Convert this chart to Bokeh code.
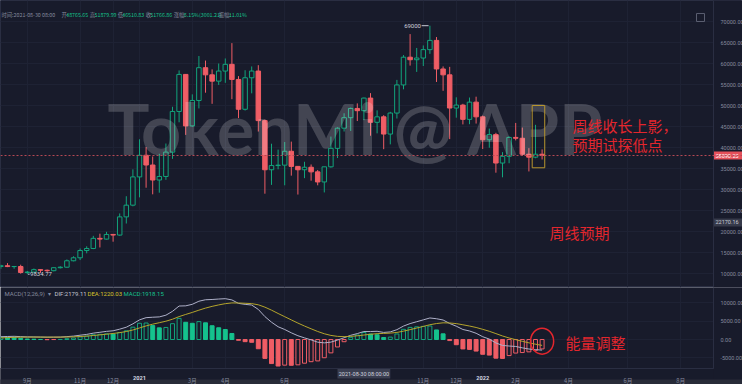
import numpy as np
from bokeh.plotting import figure
from bokeh.layouts import column
from bokeh.models import Range1d, FixedTicker, NumeralTickFormatter, Grid, Span, LinearAxis
from bokeh.core.properties import value
from bokeh.embed import file_html
from bokeh.resources import INLINE

# ---------------- data (weekly candles, week start Monday) ----------------
weeks = ["2020-08-10","2020-08-17","2020-08-24","2020-08-31","2020-09-07","2020-09-14","2020-09-21","2020-09-28",
         "2020-10-05","2020-10-12","2020-10-19","2020-10-26","2020-11-02","2020-11-09","2020-11-16","2020-11-23",
         "2020-11-30","2020-12-07","2020-12-14","2020-12-21","2020-12-28","2021-01-04","2021-01-11","2021-01-18",
         "2021-01-25","2021-02-01","2021-02-08","2021-02-15","2021-02-22","2021-03-01","2021-03-08","2021-03-15",
         "2021-03-22","2021-03-29","2021-04-05","2021-04-12","2021-04-19","2021-04-26","2021-05-03","2021-05-10",
         "2021-05-17","2021-05-24","2021-05-31","2021-06-07","2021-06-14","2021-06-21","2021-06-28","2021-07-05",
         "2021-07-12","2021-07-19","2021-07-26","2021-08-02","2021-08-09","2021-08-16","2021-08-23","2021-08-30",
         "2021-09-06","2021-09-13","2021-09-20","2021-09-27","2021-10-04","2021-10-11","2021-10-18","2021-10-25",
         "2021-11-01","2021-11-08","2021-11-15","2021-11-22","2021-11-29","2021-12-06","2021-12-13","2021-12-20",
         "2021-12-27","2022-01-03","2022-01-10","2022-01-17","2022-01-24","2022-01-31","2022-02-07","2022-02-14",
         "2022-02-21","2022-02-28","2022-03-07"]
opens = [11680,11850,11650,11660,10250,10330,10920,10770,10670,11380,11500,13030,13740,15470,15960,18370,
         18190,19300,19150,23480,26270,33000,38150,35830,32260,33100,38900,48580,57400,45140,51200,59000,
         57300,55800,58200,59800,56200,49100,56600,58200,46400,34700,35700,35800,39100,35500,34700,35300,
         34200,31800,35400,39800,44600,47100,49300,48765.65,51766,46000,47300,43200,48200,54900,61500,60900,
         61300,63300,65500,58700,57300,49400,50100,46700,50800,47300,41850,43100,36300,37900,42400,42200,
         38400,37700,38400]
highs = [12090,12470,11800,12090,10600,11180,10990,10950,11490,11720,13350,14100,15960,16480,18960,19480,
         19920,19420,24300,28400,34800,41950,40100,37850,38500,40950,49700,58350,57500,52650,61780,60700,
         58600,60000,61200,64850,57000,58400,59300,59600,46650,40900,39500,41300,41400,35500,36600,35960,
         34650,35400,42600,44800,48150,49500,50500,51879.99,52950,48850,47700,48500,56100,62000,67000,63700,
         64300,69000,66300,59300,59200,51950,50400,51900,52100,47600,44500,43500,38900,42650,45850,44750,
         39850,45400,39550]
lows = [11120,11520,11130,9960,9834.77,10270,10140,10370,10520,11200,11400,12900,13200,14800,15800,16200,
        18100,17570,19000,21900,26000,28130,30420,28850,29240,32300,37300,46000,43000,44950,49300,53050,
        50400,54900,55400,51500,47000,48800,52900,43800,29000,31100,34800,31000,33300,28800,32700,32100,
        31000,29300,35200,37500,43800,43950,46300,46510.83,42800,43370,39600,40750,46900,53850,59500,58000,
        59400,62300,55600,53500,42000,47100,45500,45550,45700,39650,39950,34000,32900,36250,41700,38000,
        34300,37450,37150]
closes = [11850,11650,11660,10250,10330,10920,10770,10670,11380,11500,13030,13740,15470,15960,18370,18190,
          19300,19150,23480,26270,33000,38150,35830,32260,33100,38900,48580,57400,45140,51200,59000,57300,
          55800,58200,59800,56200,49100,56600,58200,46400,34700,35700,35800,39100,35500,34700,35300,34200,
          31800,35400,39800,44600,47100,49300,48765.65,51766.86,46000,47300,43200,48200,54900,61500,60900,61300,
          63300,65500,58700,57300,49400,50100,46700,50800,47300,41850,43100,36300,37900,42400,42200,38400,
          37700,38400,38090.23]

# MACD(12,26,9) values
dif = [758,826,871,784,714,697,664,623,640,656,783,930,1173,1388,1734,1971,2222,2382,2825,3363,4283,5366,
       5968,6087,6177,6641,7700,9146,9197,9615,10456,10859,10932,11056,11155,10818,9864,9603,9417,8222,6259,
       4729,3485,2733,1826,1031,444,-108,-732,-924,-714,-158,479,1148,1616,2179,2180,2240,1934,2071,2689,
       3670,4348,4862,5369,5880,5671,5331,4374,3630,2734,2329,1705,762,115,-936,-1622,-1781,-1902,-2278,
       -2602,-2771,-2896]
dea = [442,519,590,629,646,656,658,651,648,650,676,727,816,931,1091,1267,1458,1643,1879,2176,2597,3151,
       3714,4189,4587,4997,5538,6260,6847,7401,8012,8581,9052,9452,9793,9998,9971,9898,9801,9485,8840,8018,
       7111,6236,5354,4489,3680,2923,2192,1569,1112,858,782,855,1008,1220,1434,1595,1663,1744,1933,2280,
       2694,3128,3576,4037,4363,4557,4520,4342,4021,3682,3287,2782,2248,1611,965,416,-48,-494,-915,-1286,
       -1608]
macd_hist = [632,614,562,310,136,82,12,-56,-16,12,214,406,714,914,1286,1408,1528,1478,1892,2374,3372,4430,
             4508,3796,3180,3288,4324,5772,4700,4428,4888,4556,3760,3208,2724,1640,-214,-590,-768,-2526,-5162,
             -6578,-7252,-7006,-7056,-6916,-6472,-6062,-5848,-4986,-3652,-2032,-606,586,1216,1918,1492,1290,
             542,654,1512,2780,3308,3468,3586,3686,2616,1548,-292,-1424,-2574,-2706,-3164,-4040,-4266,-5094,
             -5174,-4394,-3708,-3568,-3374,-2970,-2576]

tick_idx = [4, 12, 17, 29, 34, 43, 64, 69, 78, 86, 95, 103]
tick_txt = ["9月", "11月", "12月", "3月", "4月", "6月", "11月", "12月", "2月", "4月", "6月", "8月"]
year_idx = [21, 73]
year_txt = ["2021", "2022"]
price_ticks = [10000, 15000, 20000, 25000, 30000, 35000, 40000, 45000, 50000, 55000, 60000, 65000, 70000]
macd_ticks = [-5000, 0, 5000, 10000]
last_price = 38090.23
cross_price = 22170.16
cross_week = 55

# ---------------- styles ----------------
BG = "#181b2b"
GRIDC = "#1e2234"
AXC = "#2a2e42"
TXT = "#858a9e"
GREEN = "#12a47c"
GREEN_S = "#15c28d"
RED = "#ef5d65"
ANN = "#e3262d"
CJK = "Noto Sans CJK SC"
NUM = "Roboto"

x = np.arange(len(weeks))
o = np.array(opens, float); h = np.array(highs, float); l = np.array(lows, float); c = np.array(closes, float)
up = c >= o
dn = ~up

def px(v):  # screen px -> week index (annotation placement only)
    return (v - 0.4) / 6.6

XL, XA, XR = px(0) - 1, px(713), px(742) + 1
all_ticks = sorted(tick_idx + year_idx)

def style_axis(ax, font, size="5.5px", color=TXT):
    ax.major_label_text_font_size = size
    ax.major_label_text_color = color
    ax.major_label_text_font = font
    ax.axis_line_color = AXC
    ax.major_tick_line_color = None
    ax.minor_tick_line_color = None

# ---------------- main (price) panel ----------------
P_LO, P_HI = 6667, 75000
p = figure(width=742, height=287, x_range=Range1d(px(0), px(742)), y_range=Range1d(P_LO, P_HI),
           x_axis_location=None, y_axis_location=None, output_backend="svg", toolbar_location=None,
           min_border=0, background_fill_color=BG, border_fill_color=BG, outline_line_color=AXC)
for g in list(p.xgrid) + list(p.ygrid):
    g.visible = False
p.add_layout(Grid(dimension=1, ticker=FixedTicker(ticks=price_ticks), grid_line_color=GRIDC))
p.add_layout(Grid(dimension=0, ticker=FixedTicker(ticks=all_ticks), grid_line_color=GRIDC))

# candles
p.segment(x[up], h[up], x[up], l[up], color=GREEN, line_width=1)
p.segment(x[dn], h[dn], x[dn], l[dn], color=RED, line_width=1)
p.vbar(x=x[up], width=0.68, top=c[up], bottom=o[up], fill_color=BG, line_color=GREEN, line_width=1)
p.vbar(x=x[dn], width=0.68, top=o[dn], bottom=c[dn], fill_color=RED, line_color=RED, line_width=1)

p.add_layout(Span(location=last_price, dimension="width", line_color="#b84a55", line_dash="2 2", line_width=1))

# watermark
p.text(x=[px(107)], y=[44643], text=["TokenMi @ APP"], text_font=value("Lato"), text_font_style="bold",
       text_font_size="70px", text_color="white", text_alpha=0.19, text_baseline="middle")

# high / low markers
i_hi = int(np.argmax(h)); i_lo = int(np.argmin(l))
p.segment([i_hi - 1.25], [h[i_hi]], [i_hi - 0.2], [h[i_hi]], color="#c8cad6", line_width=1)
p.text(x=[i_hi - 1.35], y=[h[i_hi]], text=["%d" % h[i_hi]], text_font=value(NUM), text_font_size="6px",
       text_color="#d0d2dc", text_align="right", text_baseline="middle")
p.segment([i_lo + 0.1], [l[i_lo]], [i_lo + 0.35], [l[i_lo]], color="#c8cad6", line_width=1)
p.text(x=[i_lo + 0.42], y=[l[i_lo]], text=["%.2f" % l[i_lo]], text_font=value(NUM), text_font_size="6px",
       text_color="#d0d2dc", text_align="left", text_baseline="middle")

# header line
hdr = [(1, "时间:2021-08-30 08:00", TXT), (61, "开:", TXT), (65.7, "48765.65", GREEN_S),
       (89.3, "高:", TXT), (94, "51879.99", GREEN_S), (117.3, "低:", TXT), (121.7, "46510.83", GREEN_S),
       (145.3, "收:", TXT), (149.7, "51766.86", GREEN_S), (173.3, "涨幅:", TXT), (183.3, "6.15%(3001.21)", GREEN_S),
       (218.3, "振幅:", TXT), (228.3, "11.01%", GREEN_S)]
for xx, tt, cc in hdr:
    p.text(x=[px(xx)], y=[71429], text=[tt], text_font=value(CJK), text_font_size="5.3px", text_color=cc,
           text_baseline="middle")

# small expand icon (top right)
p.quad(left=[px(696)], right=[px(704)], top=[71900], bottom=[70000], fill_color=None, line_color="#5a5e70",
       line_width=1)

# annotations
p.quad(left=[80.5], right=[82.4], top=[50000], bottom=[35170], fill_color=None, line_color="#b8962e", line_width=1)
p.text(x=[px(572), px(572)], y=[45238, 40714], text=["周线收长上影，", "预期试探低点"], text_font=value(CJK),
       text_font_size="15px", text_color=ANN, text_baseline="middle")
p.text(x=[px(549)], y=[19762], text=["周线预期"], text_font=value(CJK), text_font_size="15px",
       text_color=ANN, text_baseline="middle")

# price scale strip, axis and price tags
p.quad(left=[XA], right=[XR], top=[P_HI], bottom=[P_LO], fill_color=BG, line_color=None)
tag_h = 4 / 0.0042
p.quad(left=[XA], right=[XR], top=[last_price + tag_h], bottom=[last_price - tag_h], fill_color="#e5505a", line_color=None)
p.quad(left=[XA], right=[XR], top=[cross_price + tag_h], bottom=[cross_price - tag_h], fill_color="#363a4a", line_color=None)
p.text(x=[px(715), px(715)], y=[last_price, cross_price], text=["%.2f" % last_price, "%.2f" % cross_price],
       text_font=value(NUM), text_font_size="5.5px", text_color=["white", "#c8cad6"], text_baseline="middle")
yax = LinearAxis(fixed_location=XA, ticker=FixedTicker(ticks=price_ticks), formatter=NumeralTickFormatter(format="0.00"),
                 major_label_standoff=1)
style_axis(yax, NUM)
p.add_layout(yax, "right")

# ---------------- MACD panel ----------------
M_LO, M_HI, M_AX, M_STRIP = -12295, 14208, -7923, -10929
hv = np.array(macd_hist, float)
prev = np.concatenate([[hv[0]], hv[:-1]])
hollow = hv >= prev
pos = hv >= 0
q = figure(width=742, height=97, x_range=p.x_range, y_range=Range1d(M_LO, M_HI),
           x_axis_location=None, y_axis_location=None, output_backend="svg", toolbar_location=None,
           min_border=0, background_fill_color=BG, border_fill_color=BG, outline_line_color=None)
for g in list(q.xgrid) + list(q.ygrid):
    g.visible = False
q.add_layout(Grid(dimension=1, ticker=FixedTicker(ticks=macd_ticks), grid_line_color=GRIDC))
q.add_layout(Grid(dimension=0, ticker=FixedTicker(ticks=all_ticks), grid_line_color=GRIDC))

m = pos & ~hollow
q.vbar(x=x[m], width=0.6, top=hv[m], bottom=0, fill_color=GREEN_S, line_color=GREEN_S)
m = pos & hollow
q.vbar(x=x[m], width=0.6, top=hv[m], bottom=0, fill_color=BG, line_color=GREEN)
m = ~pos & ~hollow
q.vbar(x=x[m], width=0.6, top=0, bottom=hv[m], fill_color=RED, line_color=RED)
m = ~pos & hollow
q.vbar(x=x[m], width=0.6, top=0, bottom=hv[m], fill_color=BG, line_color=RED)
q.line(x, dif, color="#aeb0c8", line_width=1)
q.line(x, dea, color="#b5a52c", line_width=1)

mh = [(4, "MACD(12,26,9)", TXT), (47, "▾", TXT), (54, "DIF:2179.11", "#c4c6d2"), (87, "DEA:1220.03", "#d6c32a"),
      (123, "MACD:1918.15", GREEN_S)]
for xx, tt, cc in mh:
    q.text(x=[px(xx)], y=[12568], text=[tt], text_font=value(NUM), text_font_size="6px", text_color=cc,
           text_baseline="middle")
q.ellipse(x=[82.0], y=[-464], width=3.5, height=7100, fill_color=None, line_color=ANN, line_width=1.5)
q.text(x=[px(565)], y=[-820], text=["能量调整"], text_font=value(CJK), text_font_size="15px",
       text_color=ANN, text_baseline="middle")

# time-axis strip, bottom bar, right strip
q.quad(left=[XL], right=[XR], top=[M_AX], bottom=[M_LO], fill_color=BG, line_color=None)
q.quad(left=[XA], right=[XR], top=[M_HI], bottom=[M_LO], fill_color=BG, line_color=None)
q.quad(left=[XL], right=[XR], top=[M_STRIP], bottom=[M_LO - 1000], fill_color="#282b38", line_color=None)
q.quad(left=[cross_week - 4.0], right=[cross_week + 4.0], top=[M_AX - 100], bottom=[-10656],
       fill_color="#3a3e50", line_color=None)
q.text(x=[cross_week], y=[-9290], text=["2021-08-30 08:00:00"], text_font=value(NUM), text_font_size="5.5px",
       text_color="#d0d3de", text_align="center", text_baseline="middle")

qy = LinearAxis(fixed_location=XA, ticker=FixedTicker(ticks=macd_ticks), formatter=NumeralTickFormatter(format="0.00"),
                major_label_standoff=1, bounds=(M_AX, M_HI))
style_axis(qy, NUM)
q.add_layout(qy, "right")
qx = LinearAxis(fixed_location=M_AX, ticker=FixedTicker(ticks=tick_idx), major_label_standoff=2,
                major_label_overrides={i: t for i, t in zip(tick_idx, tick_txt)}, bounds=(XL, XA))
style_axis(qx, CJK, size="5.7px")
q.add_layout(qx, "below")
qx2 = LinearAxis(fixed_location=M_AX, ticker=FixedTicker(ticks=year_idx), major_label_standoff=2,
                 major_label_overrides={i: t for i, t in zip(year_idx, year_txt)}, bounds=(XL, XA))
style_axis(qx2, NUM, size="5.7px", color="#d6d8e2")
qx2.major_label_text_font_style = "bold"
q.add_layout(qx2, "below")
q.add_layout(Span(location=M_HI, dimension="width", line_color=AXC, line_width=1))

layout = column(p, q, spacing=0)
open("out.html", "w").write(file_html(layout, INLINE))
